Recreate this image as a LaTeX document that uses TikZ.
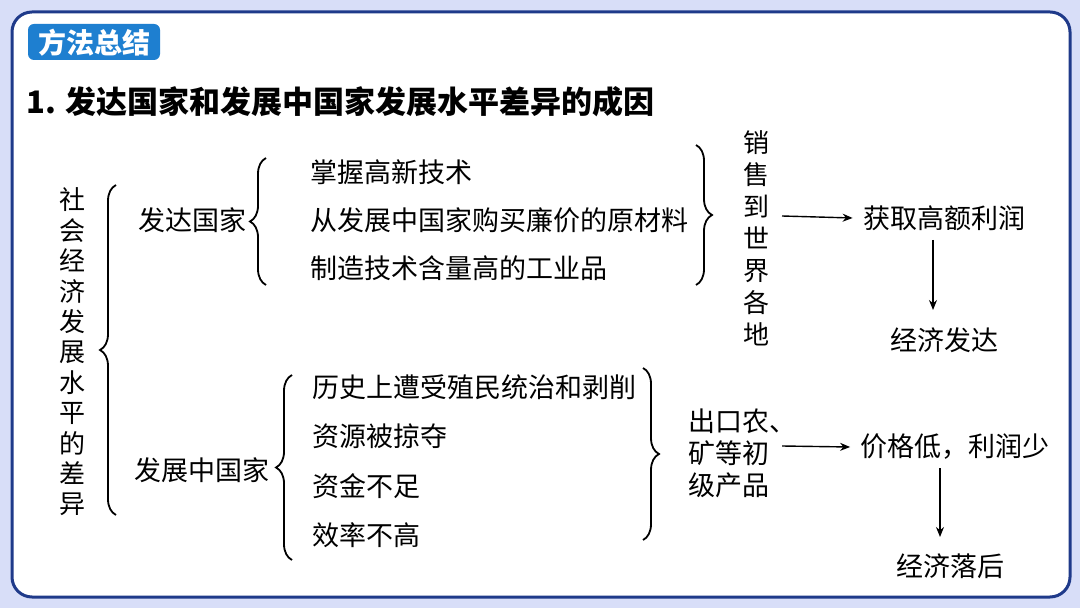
\documentclass[tikz,border=0pt]{standalone}
\usepackage{fontspec}
\setmainfont{Noto Sans CJK SC}
\usetikzlibrary{decorations.pathreplacing,arrows.meta}
\definecolor{bgc}{HTML}{D8DEF8}
\definecolor{frame}{HTML}{1F3A8A}
\definecolor{badge}{HTML}{1E7FD0}
\tikzset{
 txt/.style={font=\fontsize{13.5}{15}\selectfont, inner sep=0pt},
 item/.style={txt, anchor=west},
 vtxt/.style={txt, align=center},
 br/.style={draw, line width=0.9pt, decorate, decoration={brace, amplitude=8pt}},
 arr/.style={draw, line width=0.7pt, -{Stealth[length=5pt,width=4pt]}}
}
\begin{document}
\begin{tikzpicture}[x=0.5pt,y=-0.5pt]
\fill[bgc] (0,0) rectangle (1080,608);
\useasboundingbox (0,0) rectangle (1080,608);
\draw[frame, line width=1.5pt, fill=white, rounded corners=10pt] (12,12) rectangle (1070,597);
\fill[badge, rounded corners=3pt] (28,24) rectangle (160,60);
\node[txt, text=white, font=\fontsize{14}{16}\selectfont\bfseries] (badge) at (94,43) {方法总结};
\node[txt, anchor=west, font=\fontsize{15.5}{18}\selectfont\bfseries] (title) at (26,102) {1. 发达国家和发展中国家发展水平差异的成因};

\node[vtxt, font=\fontsize{13}{15.2}\selectfont] (left) at (72,352) {社\\会\\经\\济\\发\\展\\水\\平\\的\\差\\异};
\draw[br] (116,515) -- (116,185);

\node[txt] (dev) at (192,220) {发达国家};
\node[txt] (ldev) at (202,470) {发展中国家};

\draw[br] (266,285) -- (266,158);
\node[item] (a1) at (310,172) {掌握高新技术};
\node[item] (a2) at (310,220) {从发展中国家购买廉价的原材料};
\node[item] (a3) at (310,268) {制造技术含量高的工业品};
\draw[br] (696,145) -- (696,285);

\node[vtxt, font=\fontsize{13}{16}\selectfont] (sell) at (756,238) {销\\售\\到\\世\\界\\各\\地};
\node[txt] (profit) at (944,218) {获取高额利润};
\node[txt] (rich) at (944,340) {经济发达};
\coordinate (s1) at (782,216);
\draw[arr] (s1) -- ([xshift=-5pt]profit.west);
\draw[arr] (933,240) -- (933,310);

\draw[br] (292,560) -- (292,375);
\node[item] (b1) at (312,387) {历史上遭受殖民统治和剥削};
\node[item] (b2) at (312,436) {资源被掠夺};
\node[item] (b3) at (312,486) {资金不足};
\node[item] (b4) at (312,535) {效率不高};
\draw[br] (643,368) -- (643,540);

\node[txt, anchor=north west, align=left, font=\fontsize{13.5}{16}\selectfont] (exp) at (688,408) {出口农、\\矿等初\\级产品};
\node[txt] (price) at (955,447) {价格低，利润少};
\node[txt] (poor) at (950,566) {经济落后};
\coordinate (s2) at (782,446);
\draw[arr] (s2) -- ([xshift=-5pt]price.west);
\draw[arr] (940,468) -- (940,537);
\end{tikzpicture}
\end{document}
